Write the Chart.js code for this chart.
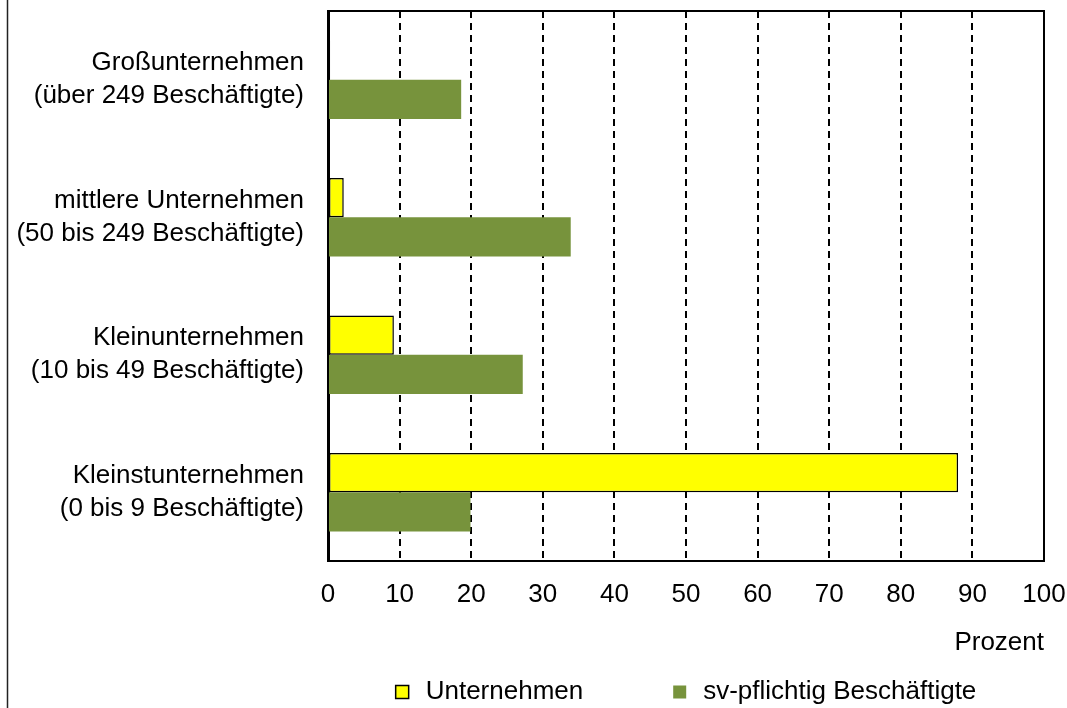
<!DOCTYPE html>
<html>
<head>
<meta charset="utf-8">
<script src="https://cdn.jsdelivr.net/npm/chart.js@4"></script>
<style>
  html, body { margin: 0; padding: 0; background: #fff; }
  #wrap { width: 1067px; height: 708px; }
</style>
</head>
<body>
<div id="wrap"><canvas id="chart" width="1067" height="708"></canvas></div>
<script>
// === DONNEES ===
const categories = [
  ["Großunternehmen", "(über 249 Beschäftigte)"],
  ["mittlere Unternehmen", "(50 bis 249 Beschäftigte)"],
  ["Kleinunternehmen", "(10 bis 49 Beschäftigte)"],
  ["Kleinstunternehmen", "(0 bis 9 Beschäftigte)"]
];
const unternehmen = [0.3, 2.2, 9.2, 88.0];
const beschaeftigte = [18.6, 33.9, 27.2, 19.9];
const seriesNames = ["Unternehmen", "sv-pflichtig Beschäftigte"];
const xTicks = [0, 10, 20, 30, 40, 50, 60, 70, 80, 90, 100];

const FONT = "'Liberation Sans', Arial, sans-serif";

// pas de marge automatique autour des axes
function noPad(s) {
  s.paddingTop = 0; s.paddingBottom = 0;
  s.paddingLeft = 0; s.paddingRight = 0;
}

// === CADRE + LEGENDE ===
const framePlugin = {
  id: "frame",
  afterDraw(chart) {
    const {ctx, chartArea: a} = chart;
    ctx.save();
    ctx.strokeStyle = "#000";
    ctx.lineWidth = 2;
    ctx.beginPath();
    ctx.moveTo(a.left, a.top);
    ctx.lineTo(a.right, a.top);
    ctx.lineTo(a.right, a.bottom);
    ctx.stroke();
    // trait gauche du cadre extérieur
    ctx.strokeStyle = "#222";
    ctx.lineWidth = 1.5;
    ctx.beginPath();
    ctx.moveTo(7.5, 0);
    ctx.lineTo(7.5, chart.height);
    ctx.stroke();

    // légende
    ctx.font = "26px " + FONT;
    ctx.textBaseline = "middle";
    ctx.fillStyle = "#000";
    const box = 13, gap = 17, space = 90, y = 692;
    const ds = chart.data.datasets;
    const widths = ds.map(d => box + gap + ctx.measureText(d.label).width);
    const total = widths.reduce((s, w) => s + w, 0) + space * (ds.length - 1);
    let x = (a.left + a.right) / 2 - total / 2;
    ds.forEach((d, i) => {
      ctx.fillStyle = d.backgroundColor;
      ctx.fillRect(x, y - box / 2, box, box);
      if (d.borderWidth) {
        ctx.strokeStyle = d.borderColor;
        ctx.lineWidth = 1.5;
        ctx.strokeRect(x, y - box / 2, box, box);
      }
      ctx.fillStyle = "#000";
      ctx.fillText(d.label, x + box + gap, y);
      x += widths[i] + space;
    });
    ctx.restore();
  }
};

new Chart(document.getElementById("chart"), {
  type: "bar",
  data: {
    labels: categories,
    datasets: [
      {
        label: seriesNames[0],
        data: unternehmen,
        backgroundColor: "#FFFF00",
        borderColor: "#000",
        borderWidth: 1.5,
        borderSkipped: false
      },
      {
        label: seriesNames[1],
        data: beschaeftigte,
        backgroundColor: "#77933C",
        borderWidth: 0
      }
    ]
  },
  options: {
    indexAxis: "y",
    responsive: false,
    animation: false,
    layout: {padding: {top: 11, right: 23, bottom: 47, left: 0}},
    datasets: {bar: {categoryPercentage: 0.57, barPercentage: 1.0}},
    plugins: {
      legend: {display: false},
      tooltip: {enabled: false}
    },
    scales: {
      x: {
        min: 0,
        max: 100,
        afterBuildTicks: s => { s.ticks = xTicks.map(v => ({value: v})); },
        afterFit: s => { s.height = 100; noPad(s); },
        ticks: {color: "#000", font: {family: FONT, size: 26}, padding: 18, maxRotation: 0},
        grid: {
          drawTicks: false,
          lineWidth: 2,
          color: c => (c.tick && (c.tick.value === 0 || c.tick.value === 100)) ? "rgba(0,0,0,0)" : "#000"
        },
        border: {display: true, color: "#000", width: 2, dash: [7, 5]},
        title: {
          display: true,
          text: "Prozent",
          align: "end",
          color: "#000",
          font: {family: FONT, size: 26},
          padding: {top: 0, bottom: 3}
        }
      },
      y: {
        afterFit: s => { s.width = 328; noPad(s); },
        ticks: {color: "#000", font: {family: FONT, size: 26, lineHeight: 1.27}, padding: 24},
        grid: {display: false, drawTicks: false},
        border: {display: true, color: "#000", width: 3}
      }
    }
  },
  plugins: [framePlugin]
});
</script>
</body>
</html>
